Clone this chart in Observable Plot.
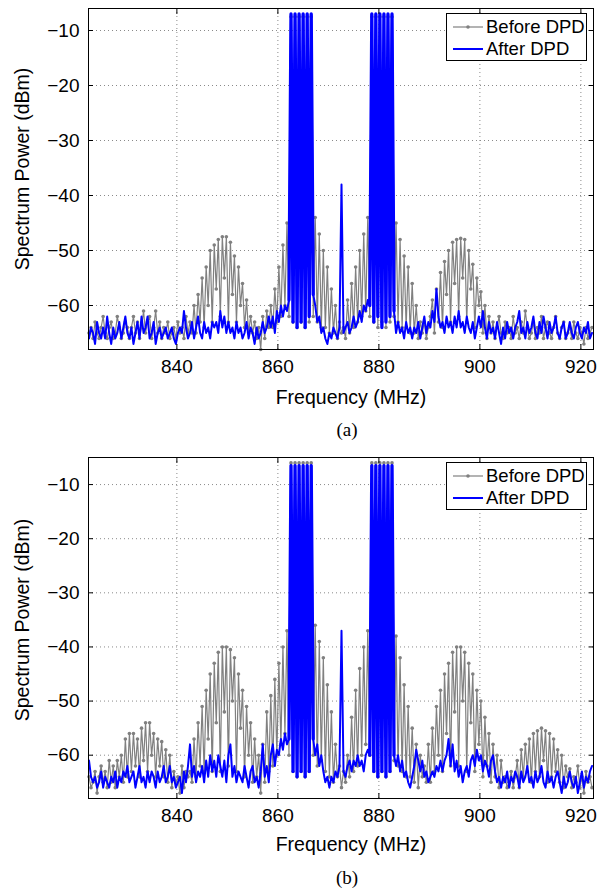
<!DOCTYPE html>
<html>
<head>
<meta charset="utf-8">
<script src="https://cdn.jsdelivr.net/npm/d3@7"></script>
<script src="https://cdn.jsdelivr.net/npm/@observablehq/plot@0.6"></script>
<style>
  html, body { margin: 0; padding: 0; background: #fff; }
  #root { position: relative; width: 599px; height: 889px; font-family: "Liberation Sans", Arial, sans-serif; color: #000; }
  .panel { position: absolute; left: 0; width: 599px; height: 412px; }
  .panel svg { position: absolute; left: 0; top: 0; }
  .cap { position: absolute; left: 0; width: 694px; text-align: center; font-family: "Liberation Serif", "Times New Roman", serif; font-size: 19px; line-height: 22px; }
  .legend { position: absolute; left: 446px; top: 13px; width: 141px; height: 48px; box-sizing: border-box; border: 1px solid #000; background: #fff; padding-top: 2px; }
  .legend .row { position: relative; height: 22px; }
  .legend svg { position: absolute; left: 5px; top: 6px; }
  .legend span { position: absolute; left: 39px; top: 0; font-size: 18.5px; line-height: 22px; white-space: nowrap; }
</style>
</head>
<body>
<div id="root">
  <div class="panel" id="pa" style="top:0px"></div>
  <div class="cap" style="top:419px">(a)</div>
  <div class="panel" id="pb" style="top:449px"></div>
  <div class="cap" style="top:867px">(b)</div>
</div>
<script>
// Frequency grid of the spectrum analyser (MHz): first bin and bin spacing
const F0 = 822.6, DF = 0.4;
const xDomain = [822.5, 922.5];
const xTicks = [840, 860, 880, 900, 920];
const yTicks = [-60, -50, -40, -30, -20, -10];
const yDomainA = [-68, -6];
const yDomainB = [-68, -5];
const seriesNames = ["Before DPD", "After DPD"];
const xLabel = "Frequency (MHz)";
const yLabel = "Spectrum Power (dBm)";
// the two carrier bands (MHz), where the After DPD trace is dense
const carrierBands = [[861.9, 867.1], [877.9, 883.1]];

// (a) Before DPD, dBm per bin
const beforeA = [
  -65,-64,-66,-63,-65,-66,-64,-62,-65,-66,
  -64,-63,-66,-65,-62,-64,-66,-65,-63,-64,
  -66,-64,-62,-65,-63,-66,-64,-61,-65,-63,
  -62,-66,-64,-61,-65,-63,-66,-64,-65,-63,
  -66,-65,-64,-66,-63,-65,-64,-66,-62,-65,
  -63,-65,-60,-65,-58,-63,-55,-64,-53,-60,
  -50,-63,-49,-57,-48,-62,-47.5,-55,-47.5,-63,
  -48.5,-58,-51,-63,-53,-60,-56,-64,-59,-65,
  -62,-65,-63,-66,-64,-68,-62,-66,-61,-64,
  -60,-64,-57,-63,-53,-62,-49,-60,-45,-62,
  -7.5,-63,-7.5,-64,-7.5,-63,-7.5,-64,-7.5,-63,
  -7.5,-62,-44,-63,-47,-64,-50,-64,-53,-65,
  -57,-65,-60,-66,-63,-65,-64,-66,-59,-65,
  -56,-64,-53,-63,-50,-62,-47,-61,-44,-62,
  -7.5,-63,-7.5,-64,-7.5,-63,-7.5,-64,-7.5,-63,
  -7.5,-62,-45,-63,-48,-64,-51,-64,-53,-65,
  -56,-65,-60,-66,-63,-65,-63,-66,-64,-62,
  -59,-65,-57,-63,-54,-64,-52,-58,-50,-63,
  -48.5,-56,-48,-62,-47.8,-55,-48,-63,-50,-57,
  -52.5,-64,-55,-60,-57.5,-65,-60,-66,-62,-65,
  -63,-66,-64,-62,-65,-66,-63,-65,-64,-66,
  -62,-65,-64,-66,-63,-65,-61,-64,-66,-65,
  -63,-66,-64,-65,-62,-66,-64,-63,-65,-66,
  -64,-62,-65,-66,-64,-63,-66,-65,-64,-66,
  -63,-65,-66,-64,-65,-67,-64,-66,-65,-64
];
// (a) After DPD
const afterA = [
  -66,-64,-65,-67,-63,-65,-66,-64,-66,-62,
  -65,-67,-64,-66,-65,-63,-66,-64,-62,-65,
  -66,-64,-67,-65,-63,-66,-62,-65,-64,-62,
  -66,-65,-63,-67,-65,-64,-66,-65,-64,-66,
  -65,-64,-66,-67,-65,-64,-65,-61,-64,-66,
  -65,-63,-66,-64,-62,-65,-66,-63,-65,-64,
  -66,-63,-64,-63,-65,-61,-64,-62,-65,-63,
  -65,-64,-66,-63,-65,-64,-66,-65,-63,-66,
  -64,-65,-67,-64,-66,-65,-63,-65,-64,-62,
  -64,-62,-65,-61,-63,-60,-62,-60,-61,-59,
  -7,-63,-7,-64,-7,-63,-7,-64,-7,-62,
  -7,-58,-60,-63,-62,-65,-64,-66,-67,-65,
  -66,-64,-65,-66,-64,-38,-65,-64,-63,-65,
  -64,-62,-64,-63,-61,-63,-60,-61,-59,-60,
  -7,-63,-7,-62,-7,-64,-7,-63,-7,-62,
  -7,-61,-65,-63,-65,-64,-66,-63,-65,-64,
  -66,-64,-65,-63,-66,-64,-62,-65,-63,-64,
  -61,-63,-57,-62,-64,-63,-65,-62,-64,-63,
  -65,-62,-64,-61,-64,-63,-65,-62,-64,-65,
  -63,-66,-64,-62,-64,-61,-64,-66,-63,-65,
  -64,-66,-63,-65,-67,-64,-66,-63,-65,-64,
  -66,-64,-63,-61,-65,-64,-66,-63,-65,-64,
  -62,-65,-66,-63,-65,-62,-64,-66,-63,-65,
  -64,-62,-65,-66,-64,-63,-66,-65,-63,-65,
  -66,-64,-63,-65,-66,-64,-65,-63,-66,-65
];
// (b) Before DPD
const beforeB = [
  -64,-66,-65,-63,-67,-64,-62,-65,-63,-66,
  -61,-65,-62,-66,-61,-64,-60,-65,-57,-64,
  -56,-63,-56,-62,-57,-64,-55,-61,-54,-63,
  -54,-60,-56,-64,-57,-62,-57.5,-64,-59,-65,
  -60,-66,-63,-65,-64,-67,-62,-66,-63,-64,
  -63,-65,-57,-64,-54,-62,-51,-63,-48,-57,
  -45,-63,-43,-54,-41,-63,-40,-52,-40,-62,
  -40.5,-50,-42,-63,-45,-55,-48,-64,-51,-60,
  -54,-65,-57,-64,-60,-67,-58,-65,-52,-63,
  -49,-62,-46,-60,-43,-58,-40,-56,-37,-60,
  -6,-63,-6,-64,-6,-63,-6,-64,-6,-63,
  -6,-60,-36,-62,-39,-61,-42,-63,-47,-64,
  -52,-65,-58,-64,-62,-66,-63,-65,-60,-64,
  -53,-63,-48,-62,-44,-60,-40,-58,-37,-60,
  -6,-63,-6,-64,-6,-63,-6,-64,-6,-63,
  -6,-61,-38,-62,-42,-63,-47,-64,-51,-64,
  -55,-65,-58,-66,-60,-64,-62,-65,-58,-65,
  -55,-63,-51,-60,-48,-63,-45,-56,-43,-62,
  -41,-52,-40,-62,-40,-50,-41,-63,-43,-54,
  -45,-63,-48,-58,-50,-64,-53,-62,-56,-65,
  -58,-64,-60,-66,-61,-65,-64,-66,-65,-63,
  -66,-64,-61,-66,-59,-64,-58,-63,-57,-65,
  -56,-63,-55.5,-64,-55,-61,-55.5,-65,-56,-64,
  -57,-63,-59,-65,-60,-66,-62,-64,-62.5,-66,
  -64,-65,-62,-66,-64,-67,-63,-65,-64,-66
];
// (b) After DPD
const afterB = [
  -61,-64,-65,-64,-66,-65,-63,-66,-64,-65,
  -66,-64,-65,-63,-66,-64,-65,-63,-64,-62,
  -65,-64,-63,-66,-64,-62,-65,-64,-66,-63,
  -65,-63,-64,-66,-63,-65,-64,-62,-65,-64,
  -62,-65,-64,-66,-65,-64,-67,-63,-65,-62,
  -58,-64,-62,-65,-63,-64,-62,-65,-61,-64,
  -60,-63,-61,-64,-60,-62,-64,-61,-65,-60,
  -58,-64,-62,-65,-63,-64,-65,-62,-64,-66,
  -63,-62,-65,-64,-66,-63,-58,-64,-62,-65,
  -60,-58,-62,-59,-60,-57,-59,-56,-58,-57,
  -6.5,-63,-6.5,-64,-6.5,-63,-6.5,-64,-6.5,-63,
  -6.5,-57,-60,-58,-62,-60,-63,-65,-64,-66,
  -64,-65,-63,-64,-62,-37,-63,-64,-62,-61,
  -63,-61,-62,-60,-62,-61,-63,-60,-59,-60,
  -6.5,-63,-6.5,-64,-6.5,-63,-6.5,-64,-6.5,-63,
  -6.5,-60,-62,-60,-63,-61,-64,-63,-65,-66,
  -64,-62,-59,-61,-63,-61,-64,-63,-65,-64,
  -63,-64,-62,-63,-61,-63,-61,-60,-57,-62,
  -58,-63,-61,-64,-62,-65,-63,-62,-64,-61,
  -60,-62,-59,-61,-60,-63,-61,-62,-64,-61,
  -60,-63,-65,-64,-66,-64,-65,-63,-66,-64,
  -65,-63,-64,-66,-63,-65,-64,-62,-65,-64,
  -66,-63,-65,-64,-62,-65,-66,-63,-65,-64,
  -66,-64,-63,-65,-67,-64,-66,-65,-63,-65,
  -66,-64,-67,-65,-63,-66,-64,-65,-63,-62
];

const GRAY = "#808080", BLUE = "#0000ff";

function rows(vals) {
  return vals.map((v, i) => ({f: F0 + i * DF, p: v}));
}
const inCarrier = (f) => carrierBands.some(([a, c]) => f >= a && f <= c);

function panel(before, after, yDomain, yLabelDy, xLabelDy) {
  const g = rows(before), b = rows(after);
  const grid = {stroke: "#8a8a8a", strokeOpacity: 1, strokeWidth: 1, strokeDasharray: "1,3"};
  return Plot.plot({
    width: 599, height: 412,
    marginLeft: 88, marginRight: 6, marginTop: 8, marginBottom: 63,
    style: {fontFamily: "'Liberation Sans', Arial, sans-serif", fontSize: "19px", color: "#000", background: "transparent", overflow: "visible"},
    x: {domain: xDomain, ticks: xTicks},
    y: {domain: yDomain, ticks: yTicks},
    marks: [
      Plot.gridX(xTicks, grid),
      Plot.gridY(yTicks, grid),
      Plot.line(g, {x: "f", y: "p", stroke: GRAY, strokeWidth: 1.2}),
      Plot.dot(g, {x: "f", y: "p", r: 1.8, fill: GRAY, stroke: null}),
      Plot.line(b, {x: "f", y: "p", stroke: BLUE, strokeWidth: 2}),
      Plot.line(b, {x: "f", y: d => inCarrier(d.f) ? d.p : NaN, stroke: BLUE, strokeWidth: 3.3}),
      Plot.axisX(xTicks, {anchor: "bottom", tickSize: 0, tickPadding: 10, label: null}),
      Plot.axisX(xTicks, {anchor: "bottom", tickSize: -5, text: null, label: null}),
      Plot.axisX(xTicks, {anchor: "top", tickSize: -5, text: null, label: null}),
      Plot.axisY(yTicks, {anchor: "left", tickSize: 0, tickPadding: 9, label: null}),
      Plot.axisY(yTicks, {anchor: "left", tickSize: -5, text: null, label: null}),
      Plot.axisY(yTicks, {anchor: "right", tickSize: -5, text: null, label: null}),
      Plot.frame({stroke: "#000", strokeWidth: 1}),
      Plot.text([xLabel], {text: d => d, frameAnchor: "bottom", dx: 10, dy: xLabelDy, lineAnchor: "middle", textAnchor: "middle", fontSize: 19.5}),
      Plot.text([yLabel], {text: d => d, frameAnchor: "left", dx: -66, dy: yLabelDy, rotate: -90, lineAnchor: "middle", textAnchor: "middle", fontSize: 19.5})
    ]
  });
}

function legend() {
  const el = document.createElement("div");
  el.className = "legend";
  el.innerHTML =
    `<div class="row"><svg width="32" height="10"><line x1="1" y1="5" x2="31" y2="5" stroke="${GRAY}" stroke-width="1.2"/><circle cx="16" cy="5" r="1.8" fill="${GRAY}"/></svg><span>${seriesNames[0]}</span></div>` +
    `<div class="row"><svg width="32" height="10"><line x1="1" y1="5" x2="31" y2="5" stroke="${BLUE}" stroke-width="2"/></svg><span>${seriesNames[1]}</span></div>`;
  return el;
}

const pa = document.getElementById("pa");
pa.appendChild(panel(beforeA, afterA, yDomainA, -10, 48));
pa.appendChild(legend());
const pb = document.getElementById("pb");
pb.appendChild(panel(beforeB, afterB, yDomainB, -8, 46));
pb.appendChild(legend());
</script>
</body>
</html>
